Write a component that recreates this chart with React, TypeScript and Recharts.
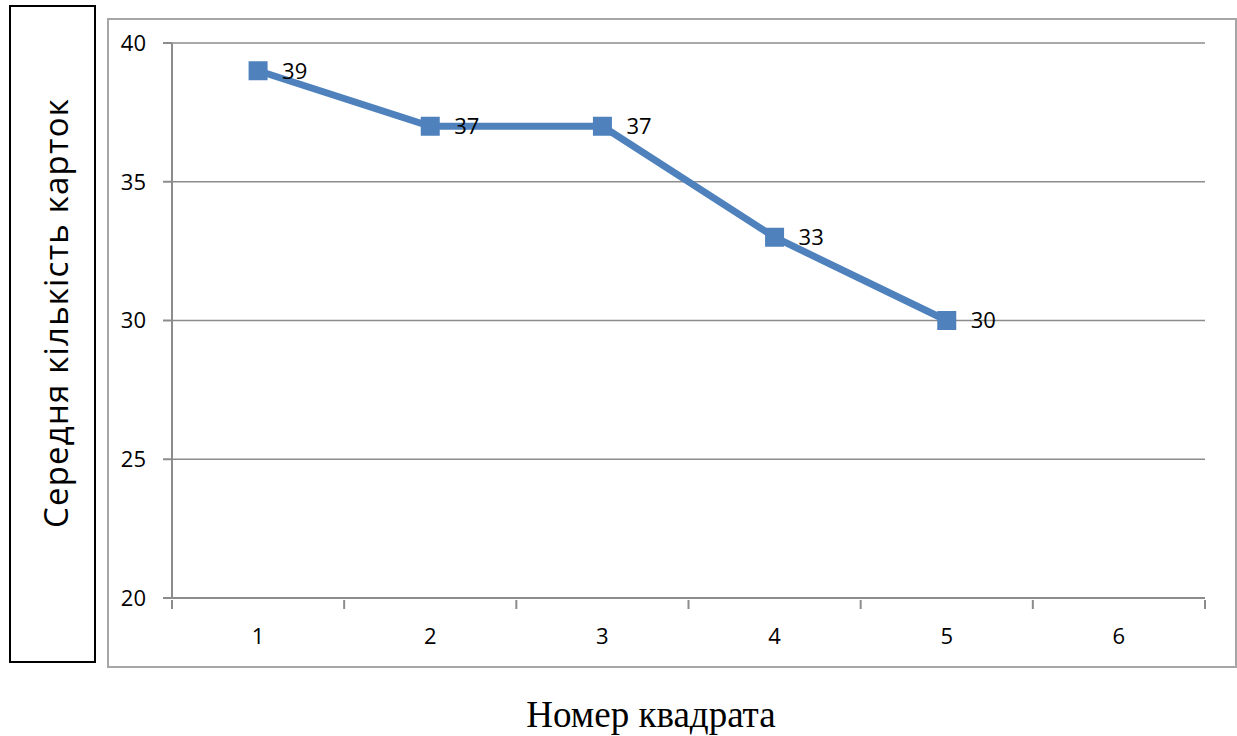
import { LineChart, Line, XAxis, YAxis, CartesianGrid, LabelList } from 'recharts';

const squares = ['1', '2', '3', '4', '5', '6'];
const avgCards: (number | null)[] = [39, 37, 37, 33, 30, null];
const yTicks = [20, 25, 30, 35, 40];

const data = squares.map((n, i) => ({ n, v: avgCards[i] }));

const W = 1237;
const H = 736;
const M = { top: 43, right: 32, bottom: 98, left: 112 };
const Y_W = 60;
const X_H = 40;
const PLOT_W = W - M.left - M.right - Y_W;
const BAND = PLOT_W / squares.length;

const BLUE = '#4F81BD';
const GRID = '#8c8c8c';
const FONT = '"Open Sans", "Noto Sans", sans-serif';

// category label in the middle, tick marks on band edges (Excel style)
const XTick = (props: any) => {
  const { x, y, payload, index } = props;
  const last = index === squares.length - 1;
  const top = y - 6;
  return (
    <g>
      <line x1={x - BAND / 2} x2={x - BAND / 2} y1={top} y2={top + 9} stroke={GRID} strokeWidth={2} />
      {last && <line x1={x + BAND / 2} x2={x + BAND / 2} y1={top} y2={top + 9} stroke={GRID} strokeWidth={2} />}
      <text x={x} y={top + 38} textAnchor="middle" dominantBaseline="middle" fontSize={22} fontFamily={FONT} fill="#000">
        {payload.value}
      </text>
    </g>
  );
};

const SquareDot = (props: any) => {
  const { cx, cy, value } = props;
  if (value == null || cx == null || cy == null) return <g />;
  return <rect x={cx - 9.5} y={cy - 9.5} width={19} height={19} fill={BLUE} />;
};

const ValueLabel = (props: any) => {
  const { x, y, value } = props;
  if (value == null) return null;
  return (
    <text x={x + 24} y={y + 2} dominantBaseline="middle" fontSize={22} fontFamily={FONT} fill="#000">
      {value}
    </text>
  );
};

export default function App() {
  return (
    <div style={{ position: 'absolute', left: 0, top: 0, width: W, height: H, background: '#fff' }}>
      <div
        style={{
          position: 'absolute', left: 9, top: 5, width: 87, height: 658,
          border: '2px solid #000', boxSizing: 'border-box',
        }}
      />
      <div
        style={{
          position: 'absolute', left: 55, top: 313, whiteSpace: 'nowrap',
          transform: 'translate(-50%, -50%) rotate(-90deg)',
          fontFamily: FONT, fontSize: 33, letterSpacing: 1.2, color: '#000',
        }}
      >
        Середня кількість карток
      </div>
      <div
        style={{
          position: 'absolute', left: 107, top: 18, width: 1130, height: 650,
          border: '2px solid #a6a6a6', boxSizing: 'border-box',
        }}
      />
      <div
        style={{
          position: 'absolute', left: 651, top: 714, whiteSpace: 'nowrap',
          transform: 'translate(-50%, -50%)',
          fontFamily: '"Liberation Serif", "Times New Roman", serif', fontSize: 37, color: '#000',
        }}
      >
        Номер квадрата
      </div>
      <div style={{ position: 'absolute', left: 0, top: 0 }}>
        <LineChart width={W} height={H} data={data} margin={M}>
          <CartesianGrid vertical={false} stroke={GRID} strokeWidth={1.5} />
          <XAxis
            dataKey="n"
            height={X_H}
            padding={{ left: BAND / 2, right: BAND / 2 }}
            axisLine={{ stroke: GRID, strokeWidth: 2 }}
            tickLine={false}
            tick={<XTick />}
            interval={0}
          />
          <YAxis
            width={Y_W}
            domain={[20, 40]}
            ticks={yTicks}
            interval={0}
            axisLine={{ stroke: GRID, strokeWidth: 2 }}
            tickLine={{ stroke: GRID, strokeWidth: 2 }}
            tickSize={9}
            tickMargin={17}
            tick={{ fontSize: 22, fontFamily: FONT, fill: '#000' }}
          />
          <Line
            dataKey="v"
            stroke={BLUE}
            strokeWidth={7}
            dot={<SquareDot />}
            activeDot={false}
            isAnimationActive={false}
            connectNulls={false}
          >
            <LabelList dataKey="v" content={<ValueLabel />} />
          </Line>
        </LineChart>
      </div>
    </div>
  );
}
